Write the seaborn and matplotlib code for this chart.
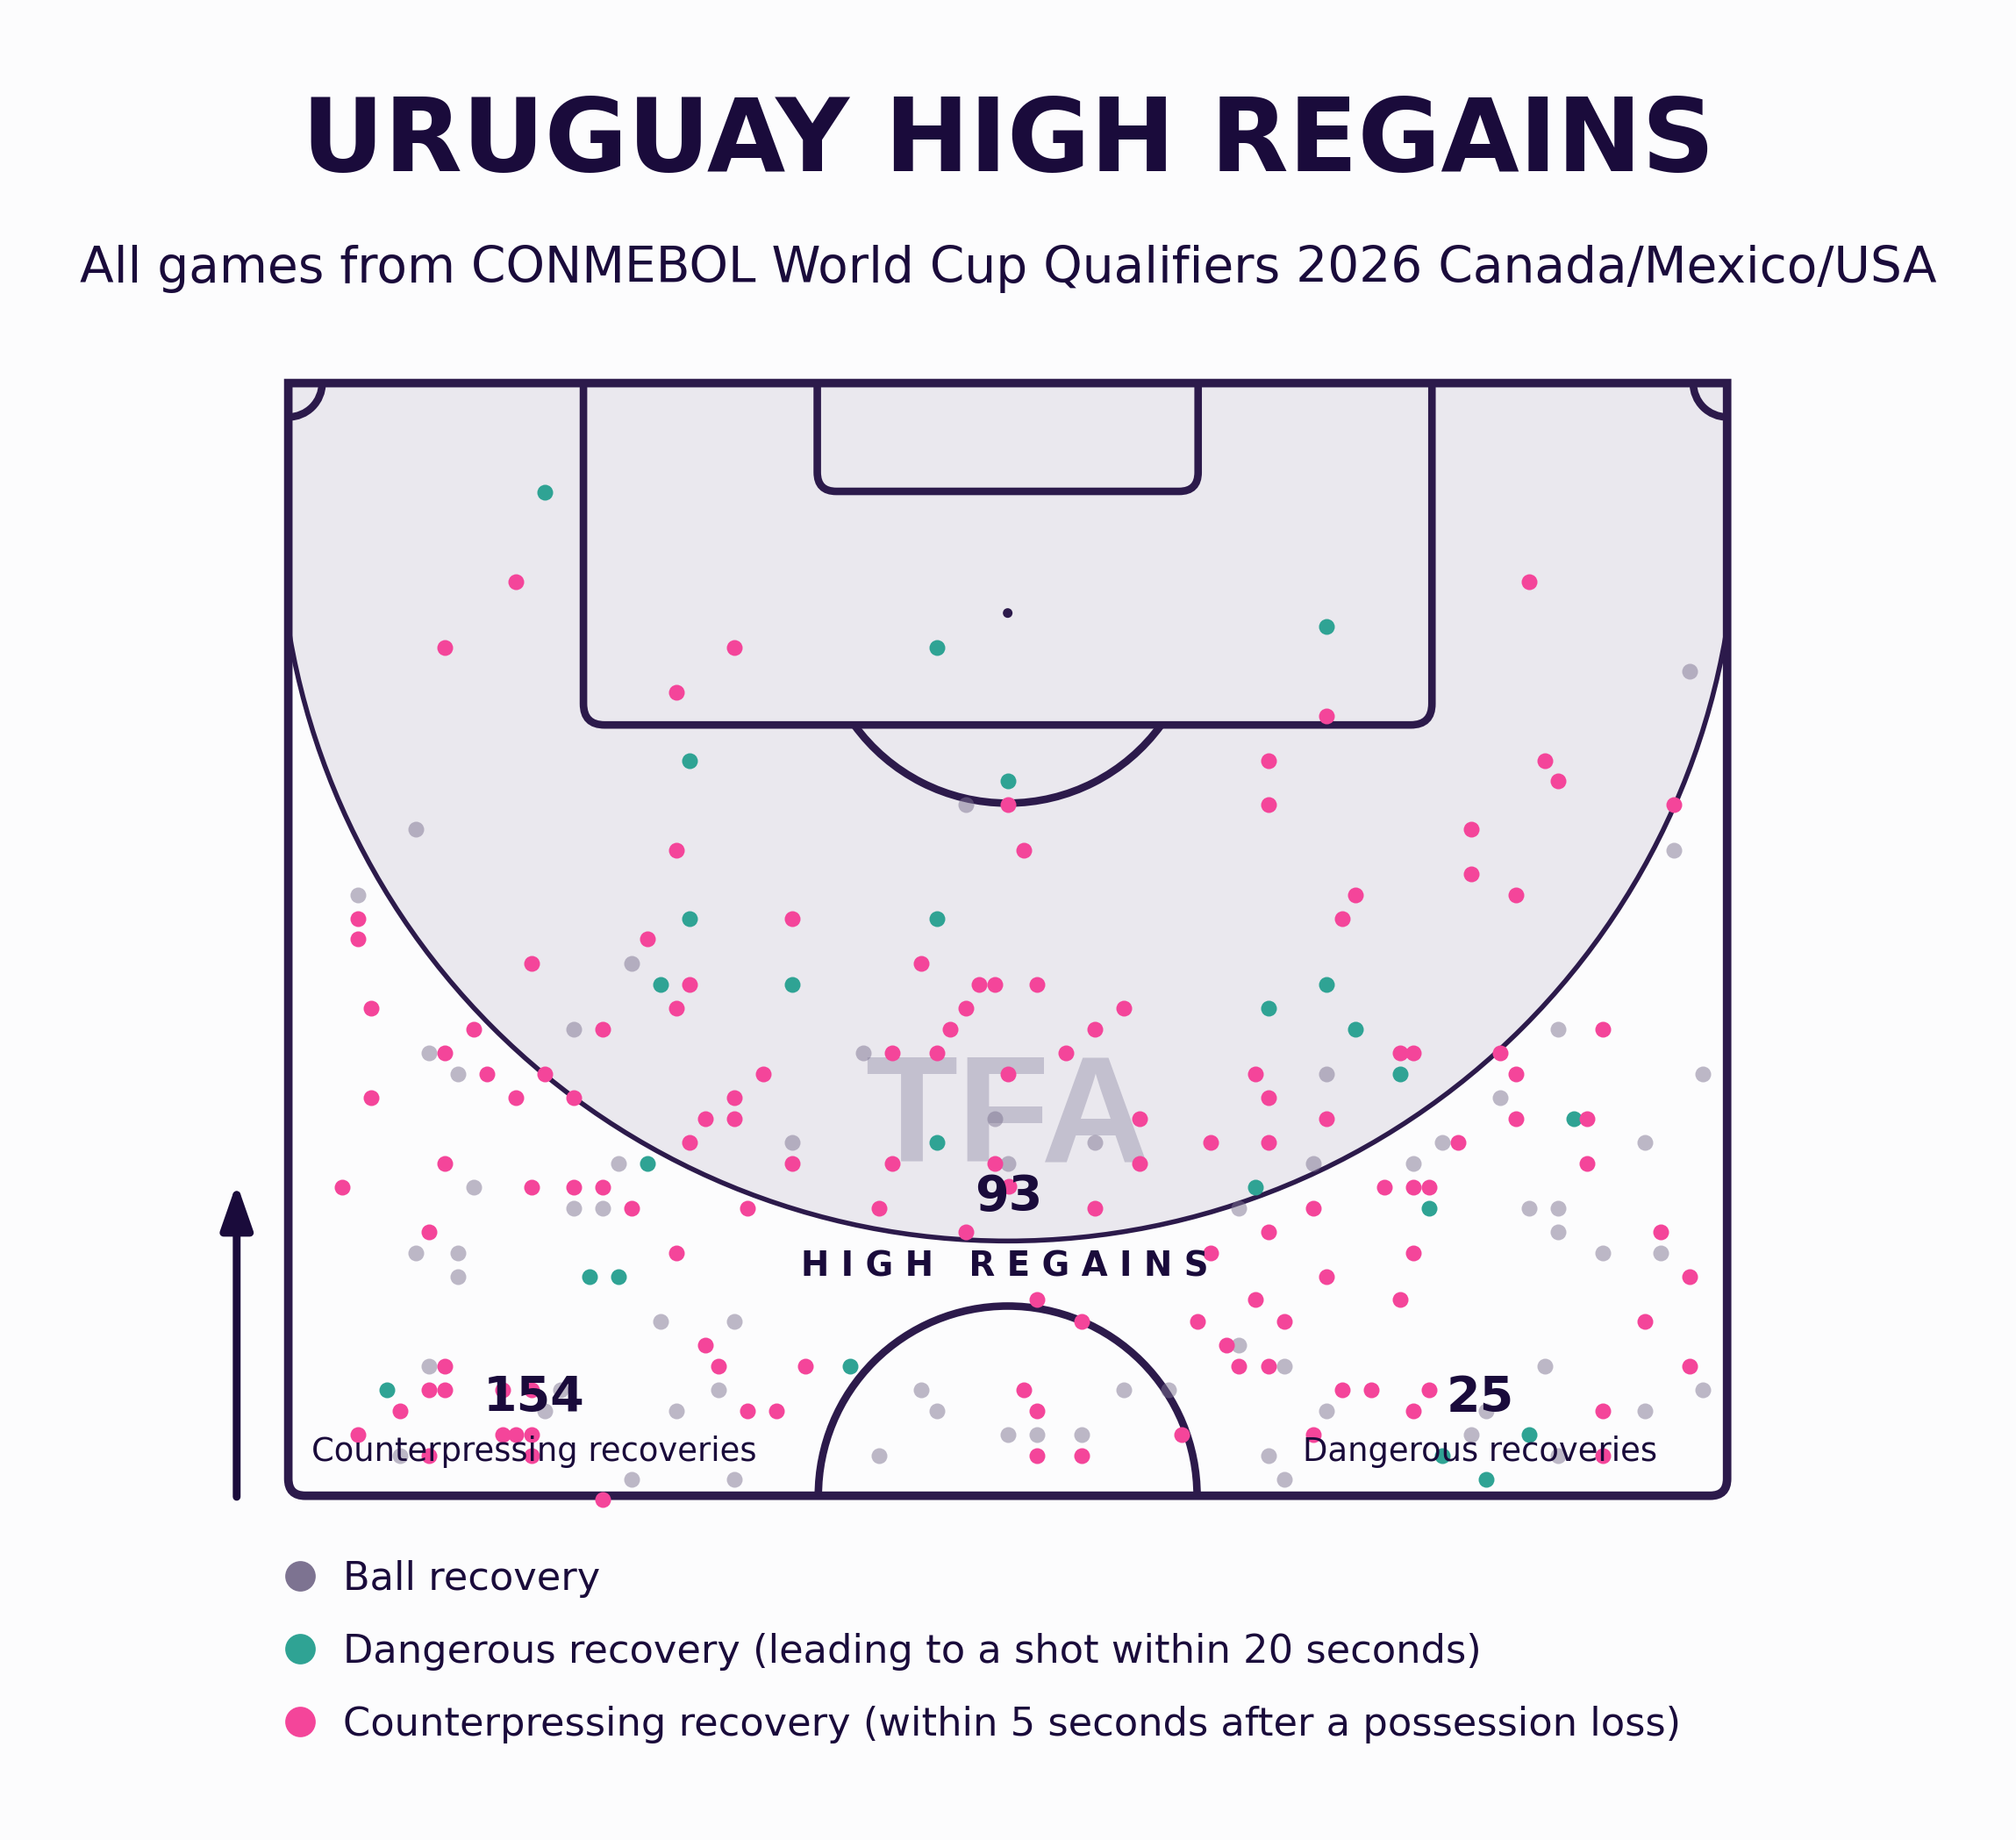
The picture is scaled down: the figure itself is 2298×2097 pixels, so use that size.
import matplotlib
matplotlib.use("Agg")
import numpy as np
import pandas as pd
import matplotlib.pyplot as plt
import seaborn as sns
from matplotlib.patches import Circle, Arc, PathPatch, FancyArrowPatch
from matplotlib.path import Path
from matplotlib.lines import Line2D

# colours
BG = "#FCFCFD"
SHADE = "#EAE8EE"
LINE = "#2C1A4B"
INK = "#1A0B3B"
GREY = "#7D7391"
TEAL = "#2FA394"
PINK = "#F4459A"

# texts
title = "URUGUAY HIGH REGAINS"
subtitle = "All games from CONMEBOL World Cup Qualifiers 2026 Canada/Mexico/USA"
legend_labels = ["Ball recovery",
                 "Dangerous recovery (leading to a shot within 20 seconds)",
                 "Counterpressing recovery (within 5 seconds after a possession loss)"]
high_regains = 93
counterpressing_total = 154
dangerous_total = 25

# recoveries, pitch metres (x across 0-68, y from the goal line 0-52.5)
ball_x = [6.02, 3.28, 32.01, 66.23, 65.48, 16.21, 13.48, 6.65, 8.01, 15.61,
          8.75, 13.48, 14.85, 6.02, 8.01, 8.01, 17.59, 21.07, 6.64, 12.85,
          20.33, 12.12, 18.33, 5.28, 16.21, 21.07, 27.17, 33.39, 23.81, 38.13,
          34.01, 44.91, 44.91, 29.91, 39.49, 41.61, 30.65, 34.01, 35.38, 37.49,
          27.91, 60.00, 49.05, 66.85, 57.26, 54.53, 64.10, 48.44, 53.17, 58.64,
          60.00, 60.00, 62.12, 64.85, 47.08, 59.39, 66.85, 49.05, 56.63, 64.10,
          55.90, 46.33, 60.00, 47.08]
ball_y = [21.06, 24.15, 19.91, 13.59, 22.05, 27.37, 30.48, 31.59, 32.60, 36.82,
          37.93, 38.92, 38.92, 41.04, 41.04, 42.15, 44.27, 44.27, 46.37, 47.50,
          47.50, 48.49, 48.49, 50.59, 51.72, 51.72, 31.59, 34.70, 35.81, 35.81,
          36.82, 38.92, 45.38, 47.50, 47.50, 47.50, 48.49, 49.61, 49.61, 49.61,
          50.59, 30.48, 32.60, 32.60, 33.71, 35.81, 35.81, 36.82, 36.82, 38.92,
          38.92, 40.05, 41.04, 41.04, 46.37, 46.37, 47.50, 48.49, 48.49, 48.49,
          49.61, 50.59, 50.59, 51.72]

danger_x = [12.12, 18.97, 18.97, 30.65, 34.01, 30.65, 49.05, 17.59, 16.97, 14.23,
            15.61, 4.66, 23.81, 30.65, 26.55, 49.05, 46.33, 50.44, 52.54, 60.74,
            45.71, 53.92, 58.64, 54.53, 56.63]
danger_y = [5.15, 17.81, 25.26, 12.48, 18.79, 25.26, 11.48, 28.36, 36.82, 42.15,
            42.15, 47.50, 28.36, 35.81, 46.37, 28.36, 29.49, 30.48, 32.60, 34.70,
            37.93, 38.92, 49.61, 50.59, 51.72]

counter_x = [10.75, 7.39, 21.07, 18.34, 18.34, 3.28, 3.29, 16.96,
             34.01, 34.77, 23.81,
             58.64, 49.05, 46.33, 59.39, 60.00, 46.33, 65.48, 55.90, 55.90, 50.44, 58.01, 49.81,
             11.49, 18.95, 3.90, 18.33, 8.75, 14.85, 7.39, 9.37, 12.12, 3.90,
             10.75, 13.48, 21.07, 19.71, 21.07, 18.95, 7.39, 2.54, 11.49, 13.48,
             14.85, 16.21, 21.69, 6.64, 18.33, 19.71, 7.39, 20.33, 6.64, 7.39,
             10.15, 11.52, 5.28, 21.69, 3.29, 10.15, 10.75, 11.49, 6.64, 11.49, 14.85,
             29.91, 32.64, 33.39, 35.38, 32.03, 39.49, 31.27, 38.13, 28.53, 30.65,
             36.75, 22.45, 34.01, 40.23, 43.59, 23.81, 28.53, 33.39, 40.23, 34.06,
             27.91, 38.13, 32.03, 43.59, 35.38, 37.49, 42.97, 44.33, 44.91, 24.43,
             23.07, 34.75, 35.38, 42.21, 35.38, 37.49,
             62.12, 52.54, 53.17, 57.26, 45.71, 58.01, 46.33, 49.05, 58.01, 61.37,
             46.33, 55.27, 61.37, 51.80, 53.17, 53.92, 48.44, 46.33, 64.85, 53.17,
             49.05, 66.23, 45.71, 52.54, 47.08, 64.10, 46.33, 66.23, 49.81, 51.17,
             53.92, 53.17, 62.12, 48.44, 62.12]
counter_y = [9.37, 12.48, 12.48, 14.59, 22.05, 25.26, 26.23, 26.23,
             19.91, 22.05, 25.26,
             9.37, 15.70, 17.81, 17.81, 18.79, 19.91, 19.91, 21.06, 23.15, 24.15, 24.15, 25.26,
             27.37, 28.36, 29.49, 29.49, 30.48, 30.48, 31.59, 32.60, 32.60, 33.71,
             33.71, 33.71, 33.71, 34.70, 34.70, 35.81, 36.82, 37.93, 37.93, 37.93,
             37.93, 38.92, 38.92, 40.05, 41.04, 45.38, 46.37, 46.37, 47.50, 47.50,
             47.50, 47.50, 48.49, 48.49, 49.61, 49.61, 49.61, 49.61, 50.59, 50.59, 52.69,
             27.37, 28.36, 28.36, 28.36, 29.49, 29.49, 30.48, 30.48, 31.59, 31.59,
             31.59, 32.60, 32.60, 34.70, 35.81, 36.82, 36.82, 36.82, 36.82, 37.90,
             38.92, 38.92, 40.05, 41.04, 43.23, 44.27, 44.27, 45.38, 46.37, 46.37,
             48.49, 47.50, 48.49, 49.61, 50.59, 50.59,
             30.48, 31.59, 31.59, 31.59, 32.60, 32.60, 33.71, 34.70, 34.70, 34.70,
             35.81, 35.81, 36.82, 37.93, 37.93, 37.93, 38.92, 40.05, 40.05, 41.04,
             42.15, 42.15, 43.23, 43.23, 44.27, 44.27, 46.37, 46.37, 47.50, 47.50,
             47.50, 48.49, 48.49, 49.61, 50.59]

df = pd.DataFrame({
    "x": ball_x + danger_x + counter_x,
    "y": ball_y + danger_y + counter_y,
    "kind": ["ball"] * len(ball_x) + ["danger"] * len(danger_x) + ["counter"] * len(counter_x),
})

sns.set_theme(style="white")
plt.rcParams["font.family"] = ["DejaVu Sans"]

fig = plt.figure(figsize=(11.49, 10.485), dpi=200, facecolor=BG)
ax = fig.add_axes([0.1430, 0.1871, 0.7137, 0.6047])
ax.set_facecolor(BG)

# high zone
ax.add_patch(Circle((34, 6.04), 34.44, facecolor=SHADE, edgecolor=LINE, lw=2.0, zorder=1))


def box_path(x0, x1, depth, r, closed=False):
    verts = [(x0, 0), (x0, depth - r), (x0, depth), (x0 + r, depth),
             (x1 - r, depth), (x1, depth), (x1, depth - r), (x1, 0)]
    codes = [Path.MOVETO, Path.LINETO, Path.CURVE3, Path.CURVE3,
             Path.LINETO, Path.CURVE3, Path.CURVE3, Path.LINETO]
    if closed:
        verts.append((x0, 0))
        codes.append(Path.CLOSEPOLY)
    return Path(verts, codes)


line_kw = dict(edgecolor=LINE, facecolor="none", zorder=3, clip_on=False)
ax.add_patch(PathPatch(box_path(0, 68, 52.5, 0.8, closed=True), lw=3.5, joinstyle="miter", **line_kw))
ax.add_patch(PathPatch(box_path(13.95, 54.05, 16.13, 1.0), lw=3.1, **line_kw))
ax.add_patch(PathPatch(box_path(25.0, 43.0, 5.11, 0.9), lw=3.1, **line_kw))
ax.add_patch(Arc((34, 10.85), 17.94, 17.94, theta1=36.1, theta2=143.9, lw=3.1, color=LINE, zorder=3))
ax.add_patch(Arc((34, 52.5), 17.9, 17.9, theta1=180, theta2=360, lw=3.1, color=LINE, zorder=3))
ax.add_patch(Arc((0, 0), 3.2, 3.2, theta1=0, theta2=90, lw=3.1, color=LINE, zorder=3))
ax.add_patch(Arc((68, 0), 3.2, 3.2, theta1=90, theta2=180, lw=3.1, color=LINE, zorder=3))
ax.add_patch(Circle((34, 10.85), 0.17, color=LINE, zorder=3))

# watermark
ax.text(34.0, 36.7, "TFA", fontsize=62, fontweight="bold", family="Liberation Sans",
        color="#C3C0CF", ha="center", va="baseline", zorder=2)

# dots
styles = {"ball": (GREY, 0.5), "danger": (TEAL, 1.0), "counter": (PINK, 1.0)}
for kind, (col, alpha) in styles.items():
    sns.scatterplot(data=df[df["kind"] == kind], x="x", y="y", color=col, alpha=alpha,
                    s=42, linewidth=0, legend=False, ax=ax, zorder=4, clip_on=False)

ax.set_xlim(0, 68)
ax.set_ylim(52.5, 0)
ax.axis("off")

# numbers on the pitch
num_kw = dict(fontsize=20, fontweight="bold", color=INK, ha="center", va="baseline", zorder=6)
lab_kw = dict(fontsize=13.3, color=INK, ha="center", va="baseline", zorder=6)
ax.text(34.05, 39.0, str(high_regains), **num_kw)
ax.text(33.85, 42.15, "H I G H   R E G A I N S", fontsize=13.9, fontweight="bold",
        color=INK, ha="center", va="baseline", zorder=6)
ax.text(11.63, 48.51, str(counterpressing_total), **num_kw)
ax.text(11.63, 50.86, "Counterpressing recoveries", **lab_kw)
ax.text(56.34, 48.51, str(dangerous_total), **num_kw)
ax.text(56.34, 50.86, "Dangerous recoveries", **lab_kw)

# titles
fig.text(0.5, 0.9070, title, fontsize=41.6, fontweight="bold", color=INK, ha="center", va="baseline")
fig.text(0.5, 0.8464, subtitle, fontsize=20.4, color=INK, ha="center", va="baseline")

# direction of play arrow
fig.add_artist(FancyArrowPatch((0.1174, 0.1865), (0.1174, 0.3570), transform=fig.transFigure,
                               arrowstyle="-|>,head_length=15.5,head_width=5.4", mutation_scale=1,
                               lw=3.2, color=INK, capstyle="round", shrinkA=0, shrinkB=0))

# legend
for i, (label, col) in enumerate(zip(legend_labels, [GREY, TEAL, PINK])):
    yc = 0.1435 - i * 0.0396
    fig.add_artist(Line2D([0.1487], [yc], marker="o", ms=11.5, color=col, linestyle="none",
                          transform=fig.transFigure))
    fig.text(0.1703, yc - 0.0074, label, fontsize=16.1, color=INK, va="baseline")

fig.savefig("out.png", dpi=200, facecolor=BG)
